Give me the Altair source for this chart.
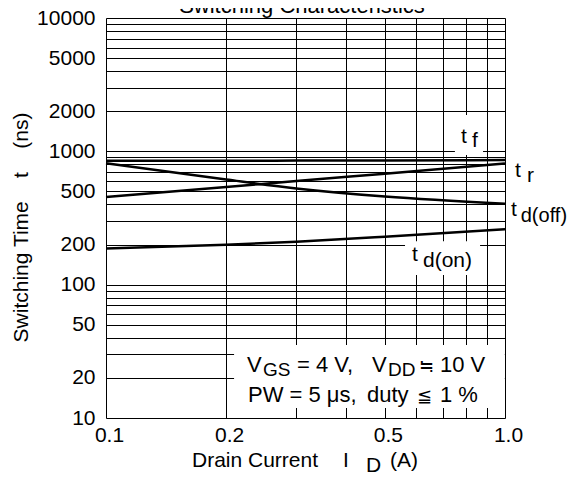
import altair as alt
import pandas as pd

# ---------------- data ----------------
drain_current = [0.1, 0.2, 0.3, 0.5, 1.0]          # I_D (A)
t_f = [850, 850, 852, 855, 860]                     # ns
t_r = [455, 540, 600, 680, 810]                     # ns
t_d_off = [815, 614, 527, 458, 405]                 # ns
t_d_on = [187, 199, 210, 229, 261]                  # ns

x_grid = [0.1, 0.2, 0.3, 0.4, 0.5, 0.6, 0.7, 0.8, 0.9, 1.0]
y_grid = [10, 20, 30, 40, 50, 60, 70, 80, 90,
          100, 200, 300, 400, 500, 600, 700, 800, 900,
          1000, 2000, 3000, 4000, 5000, 6000, 7000, 8000, 9000, 10000]
x_tick_labels = [0.1, 0.2, 0.5, 1.0]
y_tick_labels = [10, 20, 50, 100, 200, 500, 1000, 2000, 5000, 10000]

FONT = "Liberation Sans"
W, H = 399, 400
X0, Y0 = 106, 18   # page position of the plot origin (for annotations)

series = {"tf": t_f, "tr": t_r, "td(off)": t_d_off, "td(on)": t_d_on}
rows = []
for name, vals in series.items():
    for xv, yv in zip(drain_current, vals):
        rows.append({"series": name, "ID": xv, "t": yv})
df = pd.DataFrame(rows)

xscale = alt.Scale(type="log", domain=[0.1, 1.0])
yscale = alt.Scale(type="log", domain=[10, 10000])

x_label_expr = ("abs(datum.value-0.1)<1e-6 ? '0.1' : abs(datum.value-0.2)<1e-6 ? '0.2' : "
                "abs(datum.value-0.5)<1e-6 ? '0.5' : abs(datum.value-1)<1e-6 ? '1.0' : ''")
y_label_expr = "indexof(%s, datum.value) >= 0 ? format(datum.value, 'd') : ''" % str(y_tick_labels)

x_enc = alt.X("ID:Q", scale=xscale, axis=alt.Axis(
    values=x_grid, labelExpr=x_label_expr, grid=True, ticks=False, domain=False,
    title=None, labelFont=FONT, labelFontSize=21, labelColor="black",
    labelPadding=6, labelOffset=3, labelFlush=False, labelOverlap=False,
    gridColor="black", gridWidth=1, gridOpacity=1))
y_enc = alt.Y("t:Q", scale=yscale, axis=alt.Axis(
    values=y_grid, labelExpr=y_label_expr, grid=True, ticks=False, domain=False,
    title="Switching Time\u00a0\u00a0\u00a0\u00a0t\u00a0\u00a0\u00a0\u00a0(ns)",
    titleFont=FONT, titleFontSize=21, titleFontWeight="normal", titleColor="black",
    titleAngle=270, titleX=27 - X0, titleY=227 - Y0, titleAlign="center",
    titleBaseline="alphabetic",
    labelFont=FONT, labelFontSize=21, labelColor="black", labelPadding=11,
    labelOverlap=False, gridColor="black", gridWidth=1, gridOpacity=1))

lines = alt.Chart(df).mark_line(color="black", strokeWidth=2.5, interpolate="monotone").encode(
    x=x_enc, y=y_enc, detail="series:N")

# white backgrounds behind the labels / condition box (data units)
boxes = pd.DataFrame({
    "x1": [0.749, 0.5616, 0.2094],
    "x2": [0.881, 0.866, 0.999],
    "y1": [1873, 212, 35.3],
    "y2": [939, 118, 11.9],
})
rects = alt.Chart(boxes).mark_rect(fill="white", stroke=None).encode(
    x=alt.X("x1:Q", scale=xscale), x2="x2:Q",
    y=alt.Y("y1:Q", scale=yscale), y2="y2:Q")

curve_labels = pd.DataFrame({
    "txt": ["t", "f", "t", "r", "t", "d(off)", "t", "d(on)"],
    "x": [0.776, 0.827, 1.059, 1.135, 1.035, 1.095, 0.585, 0.623],
    "y": [1155, 1078, 642, 589, 327, 295, 150, 136],
    "fs": [21, 21, 21, 21, 21, 20, 21, 21],
})
label_text = alt.Chart(curve_labels).mark_text(
    align="left", baseline="alphabetic", font=FONT, color="black").encode(
    x=alt.X("x:Q", scale=xscale), y=alt.Y("y:Q", scale=yscale), text="txt:N",
    size=alt.Size("fs:Q", scale=None, legend=None))

# page-positioned texts: (text, left x, baseline y, size, align)
page_texts = [
    ("Switching Characteristics", 302, 13, 22, "center"),
    ("Drain Current", 192, 467, 21, "left"),
    ("I", 343, 467, 21, "left"),
    ("D", 366, 472, 21, "left"),
    ("(A)", 390, 467, 21, "left"),
    ("V", 247, 372, 22, "left"),
    ("GS", 263, 376, 19, "left"),
    ("= 4 V,", 297, 372, 22, "left"),
    ("V", 372, 372, 22, "left"),
    ("DD", 388, 376, 19, "left"),
    ("\u2252", 419, 372, 18, "left"),
    ("10 V", 440, 372, 22, "left"),
    ("PW = 5 \u03bcs,", 248, 402, 22, "left"),
    ("duty", 367, 402, 22, "left"),
    ("\u2266", 417, 402, 18, "left"),
    ("1 %", 440, 402, 22, "left"),
]
layers = [rects, lines, label_text]
for txt, px, py, fs, al in page_texts:
    layers.append(
        alt.Chart(pd.DataFrame({"txt": [txt]})).mark_text(
            align=al, baseline="alphabetic", font=FONT, fontSize=fs, color="black"
        ).encode(x=alt.value(px - X0), y=alt.value(py - Y0), text="txt:N")
    )

chart = alt.layer(*layers).properties(
    width=W, height=H,
    autosize=alt.AutoSizeParams(type="none"),
    padding={"left": 98, "top": 10, "right": 65, "bottom": 57},
).configure_view(stroke="black", strokeWidth=1.5).configure(background="white")

chart.save("out.html", embed_options={"renderer": "svg", "actions": False})
